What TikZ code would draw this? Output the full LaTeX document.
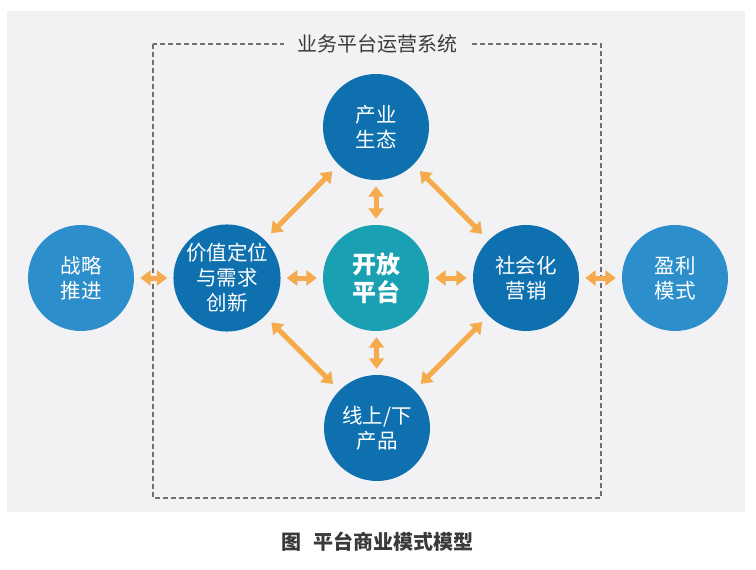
\documentclass[tikz,border=0pt]{standalone}
\usepackage{fontspec}
\newfontfamily\cjk{Noto Sans CJK SC}
\usetikzlibrary{arrows.meta}
\definecolor{panelbg}{HTML}{F2F2F4}
\definecolor{darkblue}{HTML}{0E70AF}
\definecolor{lightblue}{HTML}{2C8ECB}
\definecolor{tealc}{HTML}{19A0B3}
\definecolor{orangec}{HTML}{F5AB4C}
\definecolor{dashgray}{HTML}{6E6E6E}
\definecolor{txtgray}{HTML}{3A3A3A}
\tikzset{
  bubble/.style={circle, minimum size=106pt, inner sep=0pt, text=white, align=center,
    font=\cjk\fontsize{20.5}{25}\selectfont},
  darkbubble/.style={bubble, fill=darkblue},
  lightbubble/.style={bubble, fill=lightblue},
  centerbubble/.style={bubble, fill=tealc, font=\cjk\bfseries\fontsize{24}{28}\selectfont},
  dbl/.style={draw=orangec, line width=5pt,
    {Triangle[width=15pt,length=10.5pt]}-{Triangle[width=15pt,length=10.5pt]}},
  shortarrow/.style={dbl, shorten <=6pt, shorten >=6pt},
  diagarrow/.style={dbl, shorten <=9pt, shorten >=9pt},
  dashbox/.style={draw=dashgray, line width=2.5pt, dash pattern=on 5pt off 3pt},
  titlelabel/.style={fill=panelbg, inner xsep=13pt, inner ysep=2pt, text=txtgray,
    font=\cjk\fontsize{20}{24}\selectfont},
  captionlabel/.style={text=txtgray, font=\cjk\bfseries\fontsize{20}{24}\selectfont}
}
\begin{document}
\begin{tikzpicture}[x=1pt,y=-1pt]
\useasboundingbox (0,0) rectangle (756,570);
\fill[panelbg] (7,11) rectangle (745,512);
\draw[dashbox] (153,44) rectangle (601,498);
\node[titlelabel] (title) at (377,44) {业务平台运营系统};

\node[darkbubble] (eco) at (376,127) {产业\\生态};
\node[darkbubble] (value) at (227,278) {价值定位\\与需求\\创新};
\node[centerbubble] (open) at (376,278) {开放\\平台};
\node[darkbubble] (social) at (526,278) {社会化\\营销};
\node[darkbubble] (prod) at (377,428) {线上/下\\产品};
\node[lightbubble] (strat) at (81,278) {战略\\推进};
\node[lightbubble] (profit) at (675,278) {盈利\\模式};

\draw[shortarrow] (strat) -- (value);
\draw[shortarrow] (value) -- (open);
\draw[shortarrow] (open) -- (social);
\draw[shortarrow] (social) -- (profit);
\draw[shortarrow] (eco) -- (open);
\draw[shortarrow] (open) -- (prod);

\draw[diagarrow] (eco) -- (value);
\draw[diagarrow] (eco) -- (social);
\draw[diagarrow] (value) -- (prod);
\draw[diagarrow] (social) -- (prod);

\node[captionlabel] (cap) at (377,542) {图\hspace{0.6em}平台商业模式模型};
\end{tikzpicture}
\end{document}
